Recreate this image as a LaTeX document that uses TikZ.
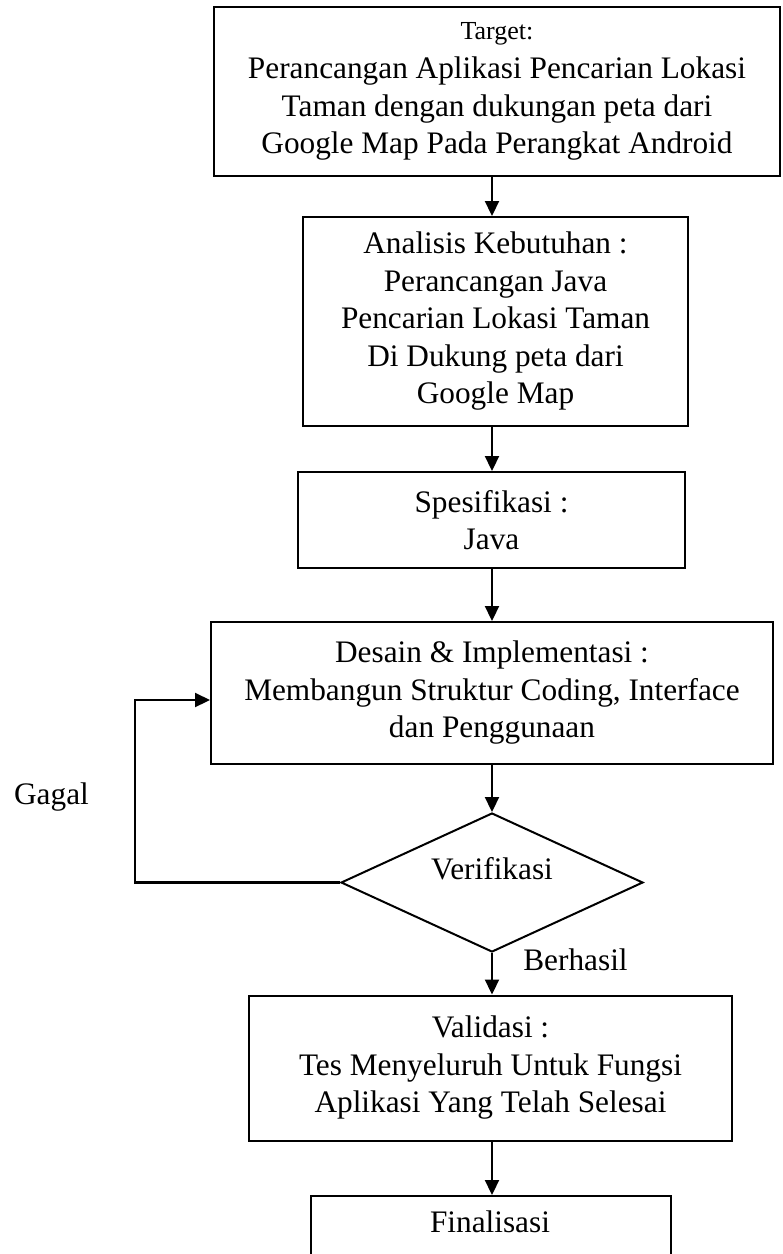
\documentclass[tikz,border=0pt]{standalone}
\usepackage{fontspec}
\setmainfont{Liberation Serif}
\usetikzlibrary{arrows.meta,shapes.geometric}
\begin{document}
\begin{tikzpicture}[x=1pt,y=-1pt,
 box/.style={draw,line width=2pt,align=center,inner sep=0pt,font=\fontsize{31.3}{37.5}\selectfont},
 dia/.style={draw,diamond,aspect=2.17,line width=2pt,inner sep=0pt},
 arr/.style={line width=2.2pt,-{Triangle[length=15pt,width=14pt]}},
 lbl/.style={inner sep=0pt,anchor=base,font=\fontsize{31.3}{37.5}\selectfont}]
\clip (0,0) rectangle (783,1254);
\node[box,minimum width=566pt,minimum height=169pt] (t) at (497,91.5)
 {{\fontsize{26}{30}\selectfont Target:}\\[2pt]
  Perancangan Aplikasi Pencarian Lokasi\\
  Taman dengan dukungan peta dari\\
  Google Map Pada Perangkat Android};
\node[box,minimum width=385pt,minimum height=209pt] (a) at (495.5,321.5)
 {Analisis Kebutuhan :\\ Perancangan Java\\ Pencarian Lokasi Taman\\ Di Dukung peta dari\\ Google Map};
\node[box,minimum width=387pt,minimum height=96pt] (s) at (491.5,520)
 {Spesifikasi :\\ Java};
\node[box,minimum width=562pt,minimum height=142pt] (d) at (492,693)
 {Desain \& Implementasi :\\ Membangun Struktur Coding, Interface\\ dan Penggunaan};
\node[dia,minimum width=302pt,minimum height=139pt] (v) at (492,882.5) {};
\node[lbl] (vt) at (492,879) {Verifikasi};
\node[box,minimum width=483pt,minimum height=145pt] (val) at (490.5,1068)
 {Validasi :\\ Tes Menyeluruh Untuk Fungsi\\ Aplikasi Yang Telah Selesai};
\node[box,minimum width=360pt,minimum height=200pt,anchor=north] (fin) at (491,1195) {};
\node[lbl] (fint) at (490,1232) {Finalisasi};
\node[lbl] (gagal) at (51.5,804) {Gagal};
\node[lbl] (berhasil) at (575.5,970) {Berhasil};
\coordinate (lp) at (135,700);
\draw[arr] (t.south -| v.north) -- (a.north -| v.north);
\draw[arr] (a.south -| v.north) -- (s.north -| v.north);
\draw[arr] (s.south -| v.north) -- (d.north -| v.north);
\draw[arr] (d.south -| v.north) -- (v.north);
\draw[arr] (v.south) -- (val.north -| v.south);
\draw[arr] (val.south -| v.south) -- (fin.north -| v.south);
\draw[arr] (v.west) -| (lp) -- (lp -| d.west);
\end{tikzpicture}
\end{document}
